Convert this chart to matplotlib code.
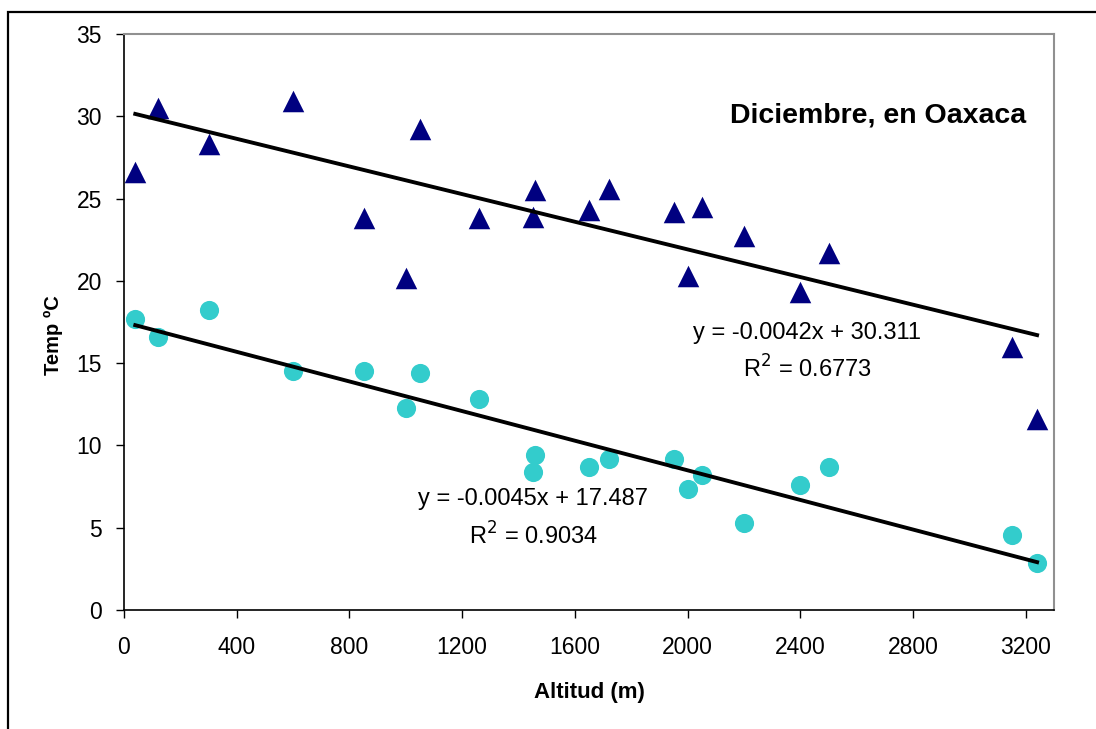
"""Temperatura vs altitud, diciembre en Oaxaca (max y min) con tendencias lineales."""
import numpy as np
import matplotlib
matplotlib.use('Agg')
import matplotlib.pyplot as plt
from matplotlib.patches import Rectangle

plt.rcParams['font.family'] = ['Liberation Sans', 'DejaVu Sans']

# altitud de las estaciones (m)
altitud = [40, 120, 300, 600, 850, 1000, 1050, 1260, 1450, 1460,
           1650, 1720, 1950, 2000, 2050, 2200, 2400, 2500, 3150, 3240]
# temperatura maxima (triangulos) y minima (circulos), en grados C
temp_max = [26.6, 30.5, 28.3, 30.9, 23.8, 20.2, 29.2, 23.8, 23.9, 25.5,
            24.3, 25.6, 24.2, 20.3, 24.5, 22.7, 19.3, 21.7, 16.0, 11.6]
temp_min = [17.7, 16.6, 18.2, 14.5, 14.5, 12.3, 14.4, 12.8, 8.4, 9.4,
            8.7, 9.2, 9.2, 7.35, 8.2, 5.3, 7.6, 8.7, 4.55, 2.85]

# coeficientes de las lineas de tendencia (tal como aparecen en el grafico)
fit_max = (-0.0042, 30.311, 0.6773)
fit_min = (-0.0045, 17.487, 0.9034)

fig = plt.figure(figsize=(10.96, 7.29), dpi=100)
W, H = 1096, 729
ax = fig.add_axes([124 / W, 1 - 610 / H, 930 / W, 576 / H])

# marco del area del grafico (se sale de la imagen por abajo y a la derecha)
fig.add_artist(Rectangle((8 / W, -0.1), 1.2, 1 - 12 / H + 0.1, transform=fig.transFigure,
                         fill=False, edgecolor='black', linewidth=1.6))

ax.scatter(altitud, temp_max, marker='^', s=15.5 ** 2, color='#000080', linewidths=0, zorder=3)
ax.scatter(altitud, temp_min, marker='o', s=13.8 ** 2, color='#33CCCC', linewidths=0, zorder=3)

xs = np.array([min(altitud), max(altitud)])
for m, b, r2 in (fit_max, fit_min):
    ax.plot(xs, m * xs + b, color='black', linewidth=2.8, zorder=4)

ax.text(2425, 16.85, 'y = -0.0042x + 30.311', ha='center', va='center', fontsize=17)
ax.text(2425, 14.65, 'R$^2$ = 0.6773', ha='center', va='center', fontsize=17)
ax.text(1453, 6.75, 'y = -0.0045x + 17.487', ha='center', va='center', fontsize=17)
ax.text(1453, 4.5, 'R$^2$ = 0.9034', ha='center', va='center', fontsize=17)
ax.text(2675, 30.05, 'Diciembre, en Oaxaca', ha='center', va='center',
        fontsize=20.5, fontweight='bold')

ax.set_xlim(0, 3300)
ax.set_ylim(0, 35)
ax.set_xticks(np.arange(0, 3201, 400))
ax.set_yticks(np.arange(0, 36, 5))
ax.tick_params(direction='out', length=6, width=1, labelsize=16.5, pad=10)
ax.tick_params(axis='x', pad=13)

for side in ('left', 'bottom'):
    ax.spines[side].set_color('black')
    ax.spines[side].set_linewidth(1.2)
for side in ('top', 'right'):
    ax.spines[side].set_color('#909090')
    ax.spines[side].set_linewidth(1.5)

ax.set_xlabel('Altitud (m)', fontsize=16, fontweight='bold')
ax.xaxis.set_label_coords(0.5, -0.125)
ax.set_ylabel('Temp ºC', fontsize=14.5, fontweight='bold')
ax.yaxis.set_label_coords(-0.066, 0.478)

fig.savefig('out.png', dpi=100)
